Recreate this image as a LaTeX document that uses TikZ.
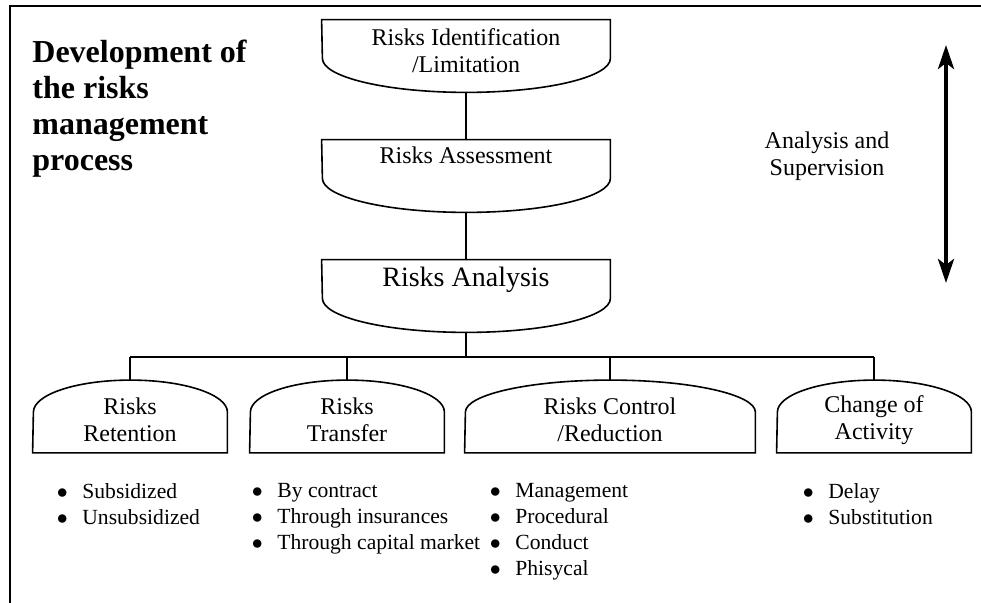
\documentclass[tikz,border=0pt]{standalone}
\usepackage{fontspec}
\setmainfont{Liberation Serif}
\usetikzlibrary{arrows.meta}

\tikzset{
  capbox/.style={minimum height=36pt, inner sep=0pt},
  boxtext/.style={align=center, inner sep=0pt, font=\fontsize{12}{13.5}\selectfont},
  listtext/.style={align=left, inner sep=0pt, anchor=north west, font=\fontsize{10.8}{13}\selectfont},
  link/.style={line width=0.8pt},
  updown/.style={line width=2pt, {Stealth[length=12pt,width=8pt,inset=3pt]}-{Stealth[length=12pt,width=8pt,inset=3pt]}},
}
\newcommand{\bul}{\makebox[12.75pt][l]{$\bullet$}}

\begin{document}
\begin{tikzpicture}[x=0.5pt,y=0.5pt]
  \useasboundingbox (0,0) rectangle (981,-603);

  % frame, only top and left edge show
  \draw[line width=1pt] (10,-603) -- (10,-6) -- (981,-6);

  % title on the left
  \node[anchor=north west, align=left, inner sep=0pt, font=\bfseries\fontsize{16}{18}\selectfont] (title) at (32,-40) {Development of\\the risks\\management\\process};

  % the three stages down the middle
  \node[capbox, minimum width=144pt] (ident) at (466,-56) {};
  \node[capbox, minimum width=144pt] (assess) at (466,-176) {};
  \node[capbox, minimum width=144pt] (anal) at (466,-296) {};
  \node[boxtext] (identtxt) at (466,-51) {Risks Identification\\/Limitation};
  \node[boxtext] (assesstxt) at (466,-155) {Risks Assessment};
  \node[boxtext, font=\fontsize{14}{16}\selectfont] (analtxt) at (466,-280) {Risks Analysis};

  % the four ways to treat the risks
  \node[capbox, minimum width=97pt] (retain) at (130,-416.5) {};
  \node[capbox, minimum width=97pt] (transf) at (347,-416.5) {};
  \node[capbox, minimum width=145pt] (control) at (610,-416.5) {};
  \node[capbox, minimum width=97pt] (change) at (874,-416.5) {};
  \node[boxtext] (retaintxt) at (130,-420) {Risks\\Retention};
  \node[boxtext] (transftxt) at (347,-420) {Risks\\Transfer};
  \node[boxtext] (controltxt) at (610,-420) {Risks Control\\/Reduction};
  \node[boxtext] (changetxt) at (874,-420) {Change of\\Activity};

  % outlines: flat top, round bottom
  \foreach \n/\r in {ident/72pt, assess/72pt, anal/72pt}
    \draw[link] (\n.north west) -- (\n.north east) -- ([yshift=17pt]\n.south east)
      arc[start angle=0, end angle=-180, x radius=\r, y radius=17pt] -- cycle;
  % outlines: round top, flat bottom
  \foreach \n/\r in {retain/48.5pt, transf/48.5pt, control/72.5pt, change/48.5pt}
    \draw[link] (\n.south west) -- (\n.south east) -- ([yshift=-16pt]\n.north east)
      arc[start angle=0, end angle=180, x radius=\r, y radius=16pt] -- cycle;

  % connectors
  \draw[link] (ident.south) -- (assess.north);
  \draw[link] (assess.south) -- (anal.north);
  \coordinate (bus) at (466,-357);
  \draw[link] (anal.south) -- (bus);
  \draw[link] (retain.north |- bus) -- (change.north |- bus);
  \foreach \n in {retain,transf,control,change}
    \draw[link] (\n.north |- bus) -- (\n.north);

  % bullet lists under the boxes
  \node[listtext] (retainlist) at (56.5,-483) {\bul Subsidized\\\bul Unsubsidized};
  \node[listtext] (transflist) at (251.5,-483) {\bul By contract\\\bul Through insurances\\\bul Through capital market};
  \node[listtext] (controllist) at (489.5,-483) {\bul Management\\\bul Procedural\\\bul Conduct\\\bul Phisycal};
  \node[listtext] (changelist) at (802.5,-483) {\bul Delay\\\bul Substitution};

  % analysis and supervision on the right
  \node[boxtext] (superv) at (827,-156) {Analysis and\\Supervision};
  \coordinate (up) at (946,-45);
  \coordinate (down) at (946,-283);
  \draw[updown] (up) -- (down);
\end{tikzpicture}
\end{document}
